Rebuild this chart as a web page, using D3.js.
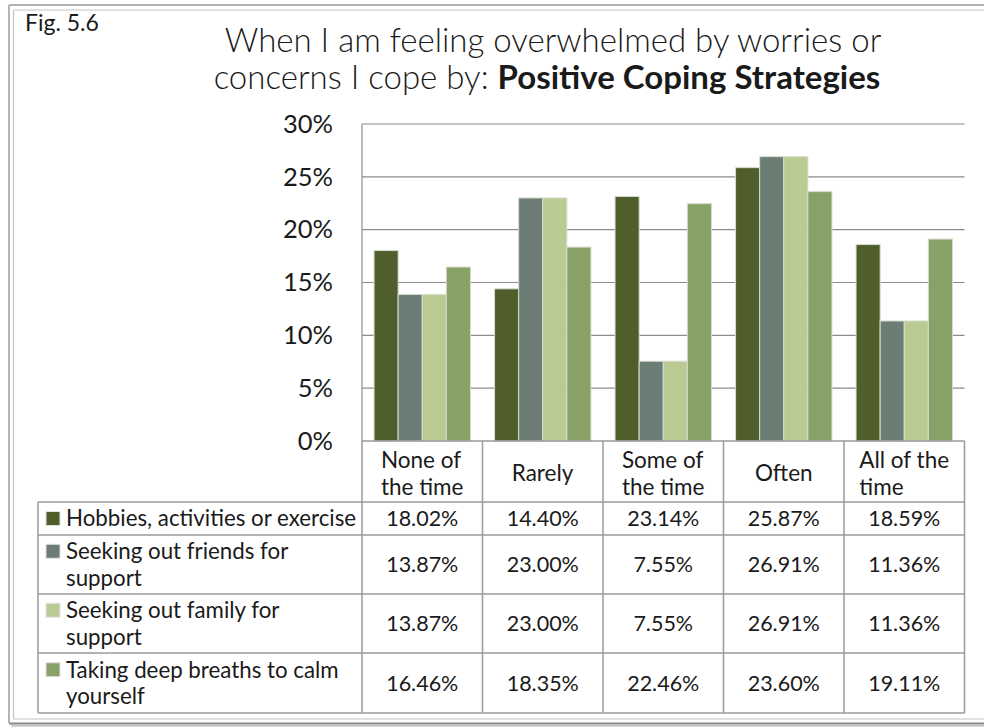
<!DOCTYPE html>
<html>
<head>
<meta charset="utf-8">
<script src="https://cdn.jsdelivr.net/npm/d3@7"></script>
<style>
  html, body { margin: 0; padding: 0; background: #fff; }
  svg { display: block; font-family: Lato, "Noto Sans", sans-serif; }
</style>
</head>
<body>
<svg id="chart" width="984" height="727"></svg>
<script>
// Response categories (x axis) and their wrapped header lines
const categories = ["None of the time", "Rarely", "Some of the time", "Often", "All of the time"];
const categoryLines = [["None of", "the time"], ["Rarely"], ["Some of", "the time"], ["Often"], ["All of the", "time"]];

// Coping strategies (series)
const seriesNames = [
  "Hobbies, activities or exercise",
  "Seeking out friends for support",
  "Seeking out family for support",
  "Taking deep breaths to calm yourself"
];
const seriesLines = [
  ["Hobbies, activities or exercise"],
  ["Seeking out friends for", "support"],
  ["Seeking out family for", "support"],
  ["Taking deep breaths to calm", "yourself"]
];
const seriesColors = ["#4f5e2b", "#6b7d74", "#b9cb92", "#88a166"];

// Percent of respondents, one array per strategy, ordered like categories
const hobbies = [18.02, 14.40, 23.14, 25.87, 18.59];
const friends = [13.87, 23.00, 7.55, 26.91, 11.36];
const family  = [13.87, 23.00, 7.55, 26.91, 11.36];
const breaths = [16.46, 18.35, 22.46, 23.60, 19.11];
const seriesValues = [hobbies, friends, family, breaths];

// Y axis ticks
const yTicks = [0, 5, 10, 15, 20, 25, 30];

const svg = d3.select("#chart");
const textColor = "#1a1a1a";
const lineColor = "#9a9a9a";

// Frame around the figure
const frame = svg.append("g");
frame.append("line").attr("x1", 9).attr("x2", 9).attr("y1", 5).attr("y2", 723)
  .attr("stroke", "#b4b4b4").attr("stroke-width", 2);
frame.append("line").attr("x1", 9).attr("x2", 984).attr("y1", 5).attr("y2", 5)
  .attr("stroke", "#b4b4b4").attr("stroke-width", 2);
frame.append("line").attr("x1", 13.5).attr("x2", 13.5).attr("y1", 10).attr("y2", 719)
  .attr("stroke", "#c4c4c4").attr("stroke-width", 1.2);
frame.append("line").attr("x1", 13.5).attr("x2", 984).attr("y1", 10).attr("y2", 10)
  .attr("stroke", "#c4c4c4").attr("stroke-width", 1.2);
frame.append("line").attr("x1", 13.5).attr("x2", 984).attr("y1", 719).attr("y2", 719)
  .attr("stroke", "#c4c4c4").attr("stroke-width", 1.2);
frame.append("line").attr("x1", 9).attr("x2", 984).attr("y1", 723.5).attr("y2", 723.5)
  .attr("stroke", "#8a8a8a").attr("stroke-width", 2);
frame.append("line").attr("x1", 11).attr("x2", 984).attr("y1", 725.5).attr("y2", 725.5)
  .attr("stroke", "#bdbdbd").attr("stroke-width", 2);

// Figure number and title
svg.append("text").attr("x", 25).attr("y", 31)
  .attr("font-size", 23).attr("fill", textColor).text("Fig. 5.6");

const title = svg.append("text").attr("text-anchor", "middle").attr("fill", textColor)
  .attr("font-size", 33).attr("font-weight", 300);
title.append("tspan").attr("x", 553).attr("y", 52).text("When I am feeling overwhelmed by worries or");
title.append("tspan").attr("x", 547).attr("y", 89).text("concerns I cope by: ");
title.append("tspan").attr("font-weight", 700).text("Positive Coping Strategies");

// Plot area
const plotLeft = 362, plotRight = 964.5, plotTop = 124, plotBottom = 441;

const x = d3.scaleBand().domain(categories).range([plotLeft, plotRight]).padding(0);
const inner = d3.scaleBand().domain(d3.range(seriesNames.length))
  .range([x.bandwidth() * 0.1, x.bandwidth() * 0.9]).padding(0);
const y = d3.scaleLinear().domain([0, 30]).range([plotBottom, plotTop]);

// Gridlines
svg.append("g").selectAll("line").data(yTicks.filter(t => t > 0)).join("line")
  .attr("x1", plotLeft).attr("x2", plotRight)
  .attr("y1", d => y(d)).attr("y2", d => y(d))
  .attr("stroke", "#8c8c8c").attr("stroke-width", 1.2);

// Y axis labels
const yAxis = d3.axisLeft(y).tickValues(yTicks).tickFormat(d => d + "%").tickSize(0).tickPadding(29);
const yg = svg.append("g").attr("transform", `translate(${plotLeft},0)`).call(yAxis);
yg.select(".domain").remove();
yg.selectAll("text").attr("font-size", 25.5).attr("fill", textColor)
  .attr("font-family", "Lato, 'Noto Sans', sans-serif");

// Bars
const groups = svg.append("g").selectAll("g").data(categories).join("g")
  .attr("transform", d => `translate(${x(d)},0)`);
groups.selectAll("rect")
  .data((c, ci) => seriesValues.map((vals, si) => ({ si, v: vals[ci] })))
  .join("rect")
  .attr("x", d => inner(d.si))
  .attr("width", inner.bandwidth())
  .attr("y", d => y(d.v))
  .attr("height", d => y(0) - y(d.v))
  .attr("fill", d => seriesColors[d.si])
  .attr("stroke", "#d6dccd").attr("stroke-width", 1);

// Left axis line
svg.append("line").attr("x1", plotLeft).attr("x2", plotLeft)
  .attr("y1", plotTop).attr("y2", plotBottom)
  .attr("stroke", "#8c8c8c").attr("stroke-width", 1.2);

// Data table
const tableLeft = 38;
const rowEdges = [441, 502, 535, 594, 653, 713];
const table = svg.append("g");

// Header cells under the categories
table.append("g").selectAll("line").data(categories.concat(["end"])).join("line")
  .attr("x1", (d, i) => plotLeft + i * x.bandwidth())
  .attr("x2", (d, i) => plotLeft + i * x.bandwidth())
  .attr("y1", rowEdges[0]).attr("y2", rowEdges[rowEdges.length - 1])
  .attr("stroke", lineColor).attr("stroke-width", 1.5);
table.append("line").attr("x1", plotLeft).attr("x2", plotRight)
  .attr("y1", rowEdges[0]).attr("y2", rowEdges[0])
  .attr("stroke", lineColor).attr("stroke-width", 1.5);
table.append("g").selectAll("line").data(rowEdges.slice(1)).join("line")
  .attr("x1", tableLeft).attr("x2", plotRight)
  .attr("y1", d => d).attr("y2", d => d)
  .attr("stroke", lineColor).attr("stroke-width", 1.5);
table.append("line").attr("x1", tableLeft).attr("x2", tableLeft)
  .attr("y1", rowEdges[1]).attr("y2", rowEdges[rowEdges.length - 1])
  .attr("stroke", lineColor).attr("stroke-width", 1.5);

const lineGap = 26.5;
const headerMid = (rowEdges[0] + rowEdges[1]) / 2 + 2;

// Header text: centred block, lines left-aligned within it
categories.forEach((c, ci) => {
  const lines = categoryLines[ci];
  const cx = x(c) + x.bandwidth() / 2;
  const t = table.append("text").attr("font-size", 22.5).attr("fill", textColor);
  lines.forEach((ln, li) => {
    t.append("tspan").attr("x", 0)
      .attr("y", headerMid + (li - (lines.length - 1) / 2) * lineGap)
      .attr("dy", "0.35em").text(ln);
  });
  const w = t.node().getBBox().width;
  t.attr("transform", `translate(${cx - w / 2},0)`);
});

// Series rows: swatch, label and values
seriesNames.forEach((name, si) => {
  const top = rowEdges[si + 1], bottom = rowEdges[si + 2];
  const mid = (top + bottom) / 2;
  const lines = seriesLines[si];
  const firstY = mid - (lines.length - 1) / 2 * lineGap;
  table.append("rect").attr("x", 46).attr("y", firstY - 7).attr("width", 14).attr("height", 14)
    .attr("fill", seriesColors[si]).attr("stroke", "#e4e4e4").attr("stroke-width", 1);
  const t = table.append("text").attr("font-size", 22.3).attr("fill", textColor);
  lines.forEach((ln, li) => {
    t.append("tspan").attr("x", 66).attr("y", firstY + li * lineGap).attr("dy", "0.35em").text(ln);
  });
  categories.forEach((c, ci) => {
    table.append("text").attr("x", x(c) + x.bandwidth() / 2).attr("y", mid).attr("dy", "0.35em")
      .attr("text-anchor", "middle").attr("font-size", 21.5).attr("fill", textColor)
      .text(seriesValues[si][ci].toFixed(2) + "%");
  });
});
</script>
</body>
</html>
